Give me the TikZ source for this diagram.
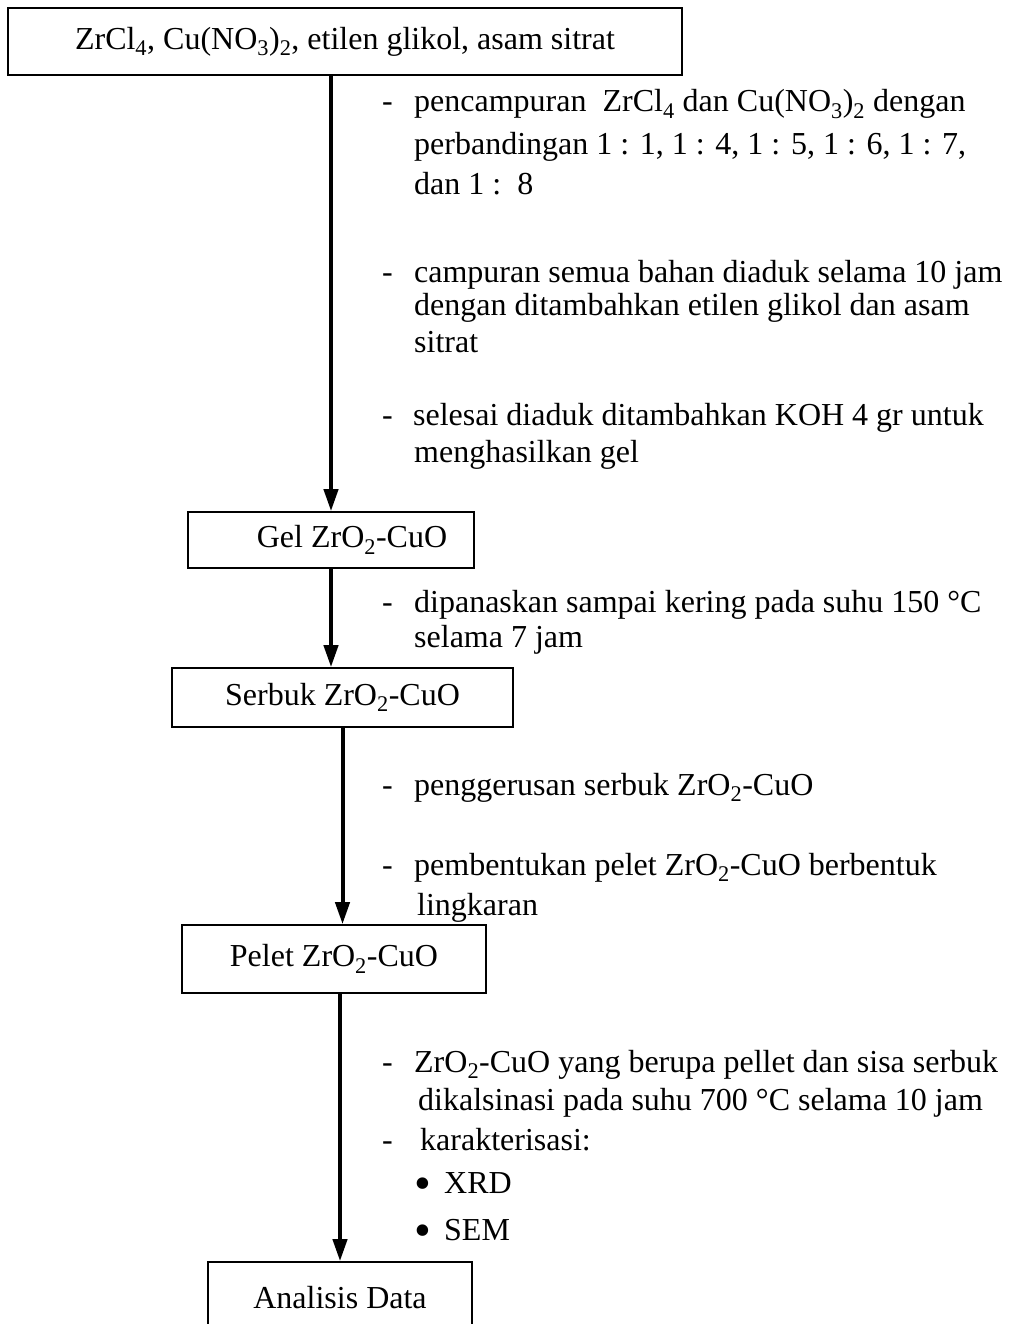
\documentclass[tikz,border=0pt]{standalone}
\usepackage{fontspec}
\setmainfont{Liberation Serif}
\usetikzlibrary{arrows.meta}
\newcommand{\zrcu}{ZrO\textsubscript{2}-CuO}
\newcommand{\strip}[1]{\makebox[#1][l]{-}}
\newcommand{\bigdot}{\makebox[30pt][l]{\raisebox{-6.5pt}{\scalebox{1.5}{•}}}}

\begin{document}
\begin{tikzpicture}[x=1pt,y=-1pt,
    box/.style={draw, line width=1.6pt, inner sep=0pt, font=\fontsize{32}{38}\selectfont},
    txt/.style={anchor=base west, inner sep=0pt, font=\fontsize{32}{38}\selectfont},
    arr/.style={line width=4pt, -{Triangle[length=22pt,width=14pt]}}]
    \useasboundingbox (0,0) rectangle (1011,1324);
    \clip (0,0) rectangle (1011,1324);

    % Process boxes
    \node[box, minimum width=674pt, minimum height=67pt] (bahan) at (345,41.5)
        {ZrCl\textsubscript{4}, Cu(NO\textsubscript{3})\textsubscript{2}, etilen glikol, asam sitrat};
    \node[box, minimum width=286pt, minimum height=56pt] (gel) at (331,540) {\hspace*{42pt}Gel \zrcu};
    \node[box, minimum width=341pt, minimum height=59pt] (serbuk) at (342.5,697.5) {Serbuk \zrcu};
    \node[box, minimum width=304pt, minimum height=68pt] (pelet) at (334,959) {Pelet \zrcu};
    \node[box, minimum width=264pt, minimum height=72pt] (analisis) at (340,1298) {Analisis Data};

    % Arrows
    \draw[arr] (gel.north |- bahan.south) -- (gel.north);
    \draw[arr] (gel.south) -- (gel.south |- serbuk.north);
    \draw[arr] (serbuk.south) -- (serbuk.south |- pelet.north);
    \draw[arr] (analisis.north |- pelet.south) -- (analisis.north);

    % Steps: mixing
    \node[txt] (s1a) at (382,112) {\strip{32pt}pencampuran\ \ ZrCl\textsubscript{4} dan Cu(NO\textsubscript{3})\textsubscript{2} dengan};
    \node[txt] (s1b) at (414,155) {perbandingan 1 : 1, 1 : 4, 1 : 5, 1 : 6, 1 : 7,};
    \node[txt] (s1c) at (414,195) {dan 1 :\ \ 8};
    \node[txt] (s2a) at (382,282) {\strip{32pt}campuran semua bahan diaduk selama 10 jam};
    \node[txt] (s2b) at (414,315) {dengan ditambahkan etilen glikol dan asam};
    \node[txt] (s2c) at (414,352) {sitrat};
    \node[txt] (s3a) at (382,425) {\strip{31pt}selesai diaduk ditambahkan KOH 4 gr untuk};
    \node[txt] (s3b) at (414,462) {menghasilkan gel};

    % Steps: drying
    \node[txt] (s4a) at (382,612) {\strip{32pt}dipanaskan sampai kering pada suhu 150 °C};
    \node[txt] (s4b) at (414,647) {selama 7 jam};

    % Steps: pellet
    \node[txt] (s5a) at (382,795) {\strip{32pt}penggerusan serbuk \zrcu};
    \node[txt] (s6a) at (382,875) {\strip{32pt}pembentukan pelet \zrcu{} berbentuk};
    \node[txt] (s6b) at (417,915) {lingkaran};

    % Steps: calcination
    \node[txt] (s7a) at (382,1072) {\strip{32pt}\zrcu{} yang berupa pellet dan sisa serbuk};
    \node[txt] (s7b) at (418,1110) {dikalsinasi pada suhu 700 °C selama 10 jam};
    \node[txt] (s7c) at (382,1150) {\strip{38pt}karakterisasi:};
    \node[txt] (s7d) at (414,1193) {\bigdot XRD};
    \node[txt] (s7e) at (414,1240) {\bigdot SEM};
\end{tikzpicture}
\end{document}
